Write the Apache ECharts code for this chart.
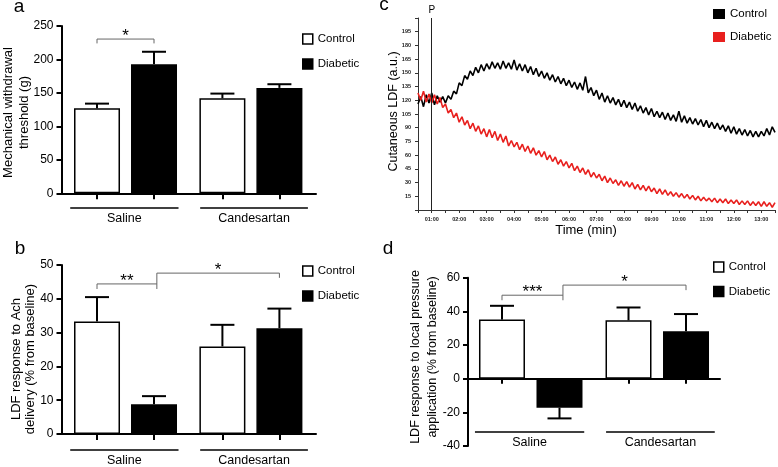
<!DOCTYPE html>
<html lang="en">
<head>
<meta charset="UTF-8">
<title>LDF response figure</title>
<script src="https://cdn.jsdelivr.net/npm/echarts@6/dist/echarts.min.js"></script>
<style>
  html, body { margin: 0; padding: 0; background: #fff; }
  #main { width: 778px; height: 467px; }
</style>
</head>
<body>
<div id="main"></div>
<script>
var FONT = '"Liberation Sans", Arial, sans-serif';

// bar slots on the x value axis (Saline ctrl, Saline diab, Cand ctrl, Cand diab)
var barPos = [1, 2, 3.2, 4.2];
var groups = ['Saline', 'Candesartan'];
var groupSpan = [[0.53, 2.43], [2.81, 4.7]];

// panel a: mechanical withdrawal threshold (g), mean and SEM
var aControl = [127, 142];
var aControlErr = [7, 7];
var aDiabetic = [193, 157.5];
var aDiabeticErr = [18.5, 5.5];

// panel b: LDF response to Ach delivery (% from baseline)
var bControl = [33.3, 25.9];
var bControlErr = [7.2, 6.4];
var bDiabetic = [8.8, 31.3];
var bDiabeticErr = [2.4, 5.8];

// panel d: LDF response to local pressure (% from baseline)
var dControl = [35.1, 34.7];
var dControlErr = [8.2, 7.6];
var dDiabetic = [-17.2, 28.2];
var dDiabeticErr = [6.4, 10.2];

// significance brackets: [x1, x2, top, leftFoot, rightFoot, stars]
var aBrackets = [[1, 2, 230.5, 224, 224, 1]];
var bBrackets = [[1, 2.05, 44.4, 42.9, 44.4, 2], [2.05, 4.2, 47.6, 42.9, 46.2, 1]];
var dBrackets = [[1, 2.06, 49.6, 46.6, 49.6, 3], [2.06, 4.2, 55.6, 46.6, 52.6, 1]];

// panel c: cutaneous LDF traces, one reading every 0.1 min from 0.5 min
var tStart = 0.5, tStep = 0.1;
var cControl = [116,124,113,126,117,128,115,125,118,124,
  117,125,121,130,127,139,136,147,143,152,
  147,156,150,159,152,160,154,162,155,161,
  154,163,155,161,154,164,153,160,152,159,
  150,157,148,155,146,152,144,150,142,148,
  140,146,138,144,136,142,134,140,132,139,
  131,146,128,134,125,131,121,128,118,125,
  117,123,115,121,113,120,112,118,110,117,
  108,114,106,112,104,111,102,108,101,107,
  99,106,98,104,97,108,96,103,95,101,
  94,100,93,99,91,98,90,96,89,95,
  88,93,86,92,84,91,83,89,82,88,
  81,87,80,86,80,86,81,89,82,91,85];
var cDiabetic = [128,120,130,118,127,117,126,116,123,112,
  116,106,110,101,106,96,102,93,98,89,
  95,86,92,83,89,80,88,79,86,76,
  83,74,81,70,76,69,74,66,72,64,
  70,62,68,60,65,58,64,55,60,53,
  58,50,55,48,53,46,51,43,48,41,
  46,39,44,36,41,35,39,32,37,30,
  35,29,33,27,32,26,31,25,30,23,
  28,22,27,21,26,20,24,18,23,17,
  22,16,20,15,19,14,18,13,17,12,
  16,11,15,10,14,10,13,9,13,8,
  12,8,12,7,11,7,11,6,10,6,
  10,5,9,5,9,4,9,4,8,3,8];

function toPoints(arr) {
  return arr.map(function (v, i) { return [+(tStart + i * tStep).toFixed(2), v]; });
}
function pad(n) { return (n < 10 ? '0' : '') + n; }

var ctrlStyle = { color: '#fff', borderColor: '#000', borderWidth: 1.5 };
var diabStyle = { color: '#000', borderColor: '#000', borderWidth: 1.5 };

function renderErr(params, api) {
  var x = api.value(0), m = api.value(1), e = api.value(2);
  var s = m < 0 ? -1 : 1;
  var p0 = api.coord([x, m]);
  var p1 = api.coord([x, m + s * e]);
  var st = { stroke: '#000', lineWidth: 2 };
  return { type: 'group', children: [
    { type: 'line', shape: { x1: p0[0], y1: p0[1], x2: p1[0], y2: p1[1] }, style: st },
    { type: 'line', shape: { x1: p1[0] - 12, y1: p1[1], x2: p1[0] + 12, y2: p1[1] }, style: st }
  ] };
}

function renderBracket(params, api) {
  var x1 = api.value(0), x2 = api.value(1), top = api.value(2);
  var pl = api.coord([x1, api.value(3)]);
  var pt1 = api.coord([x1, top]);
  var pt2 = api.coord([x2, top]);
  var pr = api.coord([x2, api.value(4)]);
  var stars = new Array(api.value(5) + 1).join('*');
  return { type: 'group', children: [
    { type: 'polyline', shape: { points: [pl, pt1, pt2, pr] },
      style: { stroke: '#666', lineWidth: 1, fill: null } },
    { type: 'text', style: { text: stars, x: (pt1[0] + pt2[0]) / 2, y: pt1[1] - 3,
      align: 'center', verticalAlign: 'middle', fontSize: 17, fontFamily: FONT, fill: '#000' } }
  ] };
}

function groupRenderer(offLine, offText) {
  return function (params, api) {
    var a = api.coord([api.value(0), 0]);
    var b = api.coord([api.value(1), 0]);
    var y = a[1] + offLine;
    return { type: 'group', children: [
      { type: 'line', shape: { x1: a[0], y1: y, x2: b[0], y2: y }, style: { stroke: '#000', lineWidth: 1.5 } },
      { type: 'text', style: { text: groups[api.value(2)], x: (a[0] + b[0]) / 2, y: a[1] + offText,
        align: 'center', verticalAlign: 'middle', fontSize: 12.5, fontFamily: FONT, fill: '#000' } }
    ] };
  };
}

function barPanel(ax, ctrl, ctrlErr, diab, diabErr, brackets, offLine, offText) {
  return [
    { type: 'bar', name: 'Control', xAxisIndex: ax, yAxisIndex: ax, barWidth: 46, barGap: '-100%',
      data: [[barPos[0], ctrl[0]], [barPos[2], ctrl[1]]], itemStyle: ctrlStyle },
    { type: 'bar', name: 'Diabetic', xAxisIndex: ax, yAxisIndex: ax, barWidth: 46, barGap: '-100%',
      data: [[barPos[1], diab[0]], [barPos[3], diab[1]]], itemStyle: diabStyle },
    { type: 'custom', xAxisIndex: ax, yAxisIndex: ax, renderItem: renderErr, z: 3,
      data: [[barPos[0], ctrl[0], ctrlErr[0]], [barPos[1], diab[0], diabErr[0]],
             [barPos[2], ctrl[1], ctrlErr[1]], [barPos[3], diab[1], diabErr[1]]] },
    { type: 'custom', xAxisIndex: ax, yAxisIndex: ax, renderItem: renderBracket, z: 3, data: brackets },
    { type: 'custom', xAxisIndex: ax, yAxisIndex: ax, renderItem: groupRenderer(offLine, offText), z: 3,
      data: [[groupSpan[0][0], groupSpan[0][1], 0], [groupSpan[1][0], groupSpan[1][1], 1]] }
  ];
}

function barX(idx, min, max, tickLen) {
  return { gridIndex: idx, type: 'value', min: min, max: max,
    axisLine: { show: true, lineStyle: { color: '#000', width: 2 } },
    axisTick: { show: true, customValues: barPos, length: tickLen, lineStyle: { color: '#000', width: 2 } },
    axisLabel: { show: false }, splitLine: { show: false } };
}
function barY(idx, min, max, step) {
  return { gridIndex: idx, type: 'value', min: min, max: max, interval: step,
    axisLine: { show: true, lineStyle: { color: '#000', width: 2 } },
    axisTick: { show: true, length: 5, lineStyle: { color: '#000', width: 2 } },
    axisLabel: { fontSize: 12, fontFamily: FONT, color: '#000', margin: 8 },
    splitLine: { show: false } };
}
function legendAt(left, top, w, h, gap, c1, c2) {
  return { left: left, top: top, orient: 'vertical', icon: 'rect', itemWidth: w, itemHeight: h,
    itemGap: gap, selectedMode: false, padding: 0,
    textStyle: { fontSize: 11.5, fontFamily: FONT, color: '#000' },
    data: [{ name: 'Control', itemStyle: c1 }, { name: 'Diabetic', itemStyle: c2 }] };
}
function title(text, x, y, size, rot, lh) {
  return { type: 'text', x: x, y: y, rotation: rot || 0,
    style: { text: text, fontSize: size, fontFamily: FONT, fill: '#000', align: 'center',
      verticalAlign: 'middle', lineHeight: lh || size } };
}

var chart = echarts.init(document.getElementById('main'));
var R = Math.PI / 2;

chart.setOption({
  animation: false,
  backgroundColor: '#fff',
  grid: [
    { left: 61.5, top: 26, width: 254.5, height: 167.3 },
    { left: 61.5, top: 265, width: 254.5, height: 169 },
    { left: 418, top: 18, width: 357, height: 192 },
    { left: 468, top: 277.7, width: 252, height: 168.3 }
  ],
  xAxis: [
    barX(0, 0.377, 4.842, 6),
    barX(1, 0.377, 4.842, 6),
    { gridIndex: 2, type: 'value', min: 0.5, max: 13.5, interval: 0.5,
      axisLine: { show: true, onZero: false, lineStyle: { color: '#333', width: 1 } },
      axisTick: { show: true, length: 3, lineStyle: { color: '#333' } },
      axisLabel: { fontSize: 5.5, fontWeight: 'bold', fontFamily: FONT, color: '#222', margin: 6,
        formatter: function (v) { return (Math.round(v) === v && v >= 1) ? pad(v) + ':00' : ''; } },
      splitLine: { show: false } },
    barX(3, 0.409, 4.791, 5)
  ],
  yAxis: [
    barY(0, 0, 250, 50),
    barY(1, 0, 50, 10),
    { gridIndex: 2, type: 'value', min: 0, max: 210, interval: 15,
      axisLine: { show: true, lineStyle: { color: '#333', width: 1 } },
      axisTick: { show: true, length: 3, lineStyle: { color: '#333' } },
      axisLabel: { fontSize: 5.5, fontWeight: 'bold', fontFamily: FONT, color: '#222', margin: 7,
        formatter: function (v) { return (v === 0 || v === 210) ? '' : v; } },
      splitLine: { show: false } },
    barY(3, -40, 60, 20)
  ],
  legend: [
    legendAt(302, 33, 10, 10, 13, ctrlStyle, diabStyle),
    legendAt(302, 265, 10, 10, 13, ctrlStyle, diabStyle),
    legendAt(713, 8, 12, 10, 11, { color: '#000', borderWidth: 0 }, { color: '#e8201e', borderWidth: 0 }),
    legendAt(713, 261, 10, 10, 12.5, ctrlStyle, diabStyle)
  ],
  graphic: [
    title('a', 19, 6.7, 19),
    title('b', 20, 248.4, 19),
    title('c', 384, 5.1, 19),
    title('d', 388, 248.4, 19),
    title('Mechanical withdrawal\nthreshold (g)', 16.6, 112.5, 13, R, 16.3),
    title('LDF response to Ach\ndelivery (% from baseline)', 23.4, 359, 13, R, 14.8),
    title('LDF response to local pressure\napplication (% from baseline)', 424, 357, 12.5, R, 17.6),
    title('Cutaneous LDF (a.u.)', 394, 111.5, 12.5, R),
    title('Time (min)', 586, 230, 13)
  ],
  series: [].concat(
    barPanel(0, aControl, aControlErr, aDiabetic, aDiabeticErr, aBrackets, 14.7, 25.4),
    barPanel(1, bControl, bControlErr, bDiabetic, bDiabeticErr, bBrackets, 16, 26.7),
    barPanel(3, dControl, dControlErr, dDiabetic, dDiabeticErr, dBrackets, 53.3, 64),
    [
      { type: 'line', name: 'Control', xAxisIndex: 2, yAxisIndex: 2, showSymbol: false,
        data: toPoints(cControl), lineStyle: { color: '#000', width: 1.6 }, itemStyle: { color: '#000' },
        markLine: { silent: true, symbol: 'none', animation: false,
          data: [{ xAxis: 1 }],
          lineStyle: { color: '#222', width: 1, type: 'solid' },
          label: { show: true, position: 'end', formatter: 'P', fontSize: 10, fontFamily: FONT, color: '#000', distance: 3 } } },
      { type: 'line', name: 'Diabetic', xAxisIndex: 2, yAxisIndex: 2, showSymbol: false,
        data: toPoints(cDiabetic), lineStyle: { color: '#e8201e', width: 1.6 }, itemStyle: { color: '#e8201e' } }
    ]
  )
});
</script>
</body>
</html>
